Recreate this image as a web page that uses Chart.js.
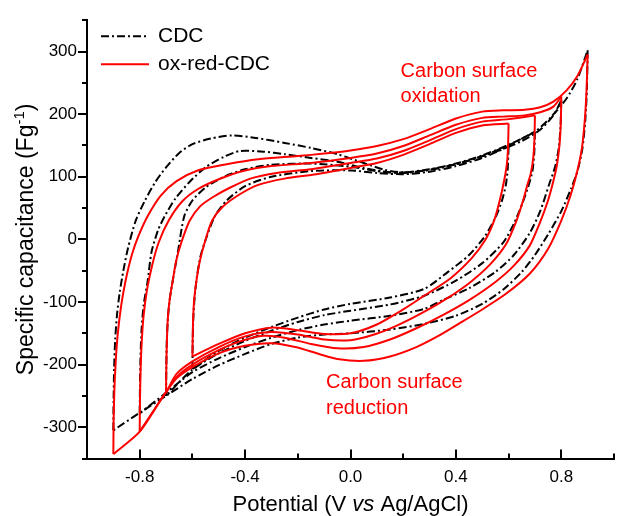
<!DOCTYPE html>
<html>
<head>
<meta charset="utf-8">
<title>CV curves</title>
<script src="https://cdn.jsdelivr.net/npm/chart.js@4.4.0/dist/chart.umd.min.js"></script>
<style>
html,body{margin:0;padding:0;background:#fff;}
canvas{display:block;}
</style>
</head>
<body>
<canvas id="cvChart" width="623" height="516"></canvas>
<script>
// tick labels
const xTickLabels = [-0.8, -0.4, 0, 0.4, 0.8];
const yTickLabels = [-300, -200, -100, 0, 100, 200, 300];

// ox-red-CDC, [potential V, capacitance F/g], anodic (up) and cathodic (down) sweeps
const oxred09Up = [[-0.9,-343],[-0.899,-290],[-0.896,-240],[-0.891,-195],[-0.883,-150],[-0.87,-105],[-0.853,-65],[-0.83,-25],[-0.805,5],[-0.77,37],[-0.72,70],[-0.66,93],[-0.58,110],[-0.47,120],[-0.35,128],[-0.2,133],[-0.1,137],[0,142],[0.1,149],[0.2,160],[0.3,176],[0.4,193],[0.5,204],[0.58,206],[0.66,207],[0.72,211],[0.77,220],[0.82,238],[0.86,260],[0.9,295]];
const oxred09Down = [[0.9,295],[0.896,240],[0.89,195],[0.878,145],[0.86,108],[0.835,70],[0.8,30],[0.75,-15],[0.68,-55],[0.59,-87],[0.5,-112],[0.41,-135],[0.33,-155],[0.25,-172],[0.15,-187],[0.05,-194],[-0.05,-191],[-0.12,-183],[-0.21,-172],[-0.3,-166],[-0.4,-170],[-0.5,-182],[-0.6,-204],[-0.66,-222],[-0.71,-250],[-0.8,-307],[-0.9,-343]];
const oxred08Up = [[-0.8,-307],[-0.799,-260],[-0.797,-215],[-0.793,-170],[-0.786,-125],[-0.772,-80],[-0.752,-40],[-0.728,-5],[-0.69,30],[-0.64,60],[-0.58,80],[-0.5,96],[-0.4,110],[-0.3,117],[-0.15,122],[0,130],[0.1,137],[0.2,149],[0.3,166],[0.4,183],[0.5,194],[0.58,196],[0.66,198],[0.72,203],[0.77,212],[0.8,228]];
const oxred08Down = [[0.8,228],[0.798,185],[0.793,150],[0.783,118],[0.768,90],[0.748,60],[0.72,28],[0.68,-10],[0.62,-42],[0.55,-68],[0.45,-97],[0.35,-121],[0.25,-142],[0.15,-160],[0.05,-172],[-0.05,-174],[-0.15,-167],[-0.25,-157],[-0.33,-154],[-0.42,-163],[-0.5,-177],[-0.6,-200],[-0.66,-220],[-0.71,-250],[-0.8,-307]];
const oxred07Up = [[-0.7,-245],[-0.699,-205],[-0.697,-165],[-0.693,-125],[-0.686,-95],[-0.675,-67],[-0.662,-35],[-0.642,-5],[-0.61,30],[-0.57,53],[-0.52,68],[-0.46,82],[-0.38,97],[-0.28,106],[-0.15,112],[0,122],[0.1,129],[0.2,141],[0.3,158],[0.4,176],[0.5,188],[0.6,192],[0.7,198]];
const oxred07Down = [[0.7,198],[0.698,160],[0.693,128],[0.684,105],[0.672,88],[0.655,62],[0.63,30],[0.59,-8],[0.53,-40],[0.45,-70],[0.36,-96],[0.27,-118],[0.18,-137],[0.09,-152],[0,-161],[-0.1,-160],[-0.2,-152],[-0.3,-148],[-0.4,-155],[-0.5,-172],[-0.6,-195],[-0.66,-215],[-0.7,-245]];
const oxred06Up = [[-0.6,-187],[-0.599,-160],[-0.597,-125],[-0.593,-95],[-0.585,-67],[-0.572,-35],[-0.552,-3],[-0.525,30],[-0.485,52],[-0.42,72],[-0.35,87],[-0.25,97],[-0.13,104],[0,114],[0.1,122],[0.2,135],[0.3,152],[0.4,170],[0.5,182],[0.6,185]];
const oxred06Down = [[0.6,185],[0.598,150],[0.594,122],[0.585,98],[0.568,65],[0.545,30],[0.51,-2],[0.46,-30],[0.38,-62],[0.28,-90],[0.2,-112],[0.1,-136],[0,-150],[-0.1,-151],[-0.2,-145],[-0.3,-141],[-0.4,-150],[-0.5,-167],[-0.6,-187]];

// CDC
const cdc09Up = [[-0.9,-305],[-0.899,-255],[-0.897,-205],[-0.893,-160],[-0.886,-120],[-0.876,-85],[-0.862,-50],[-0.845,-15],[-0.815,30],[-0.78,62],[-0.74,92],[-0.7,115],[-0.65,138],[-0.6,152],[-0.53,161],[-0.45,166],[-0.36,162],[-0.25,154],[-0.15,146],[-0.05,136],[0.05,122],[0.13,111],[0.2,107],[0.3,112],[0.4,121],[0.5,134],[0.6,151],[0.7,172],[0.76,195],[0.82,225],[0.86,255],[0.9,302]];
const cdc09Down = [[0.9,302],[0.897,240],[0.891,190],[0.88,145],[0.862,110],[0.838,82],[0.8,45],[0.75,8],[0.7,-25],[0.65,-52],[0.58,-80],[0.5,-103],[0.4,-122],[0.28,-135],[0.15,-144],[0,-150],[-0.1,-152],[-0.2,-157],[-0.3,-167],[-0.4,-183],[-0.5,-201],[-0.6,-223],[-0.7,-250],[-0.8,-277],[-0.9,-305]];
const cdc08Up = [[-0.8,-278],[-0.799,-235],[-0.797,-190],[-0.793,-145],[-0.785,-105],[-0.77,-67],[-0.755,-20],[-0.73,15],[-0.705,37],[-0.665,65],[-0.61,92],[-0.55,115],[-0.48,132],[-0.42,141],[-0.33,140],[-0.25,136],[-0.15,130],[-0.05,124],[0.05,114],[0.15,107],[0.25,108],[0.35,115],[0.45,126],[0.55,140],[0.65,157],[0.72,175],[0.77,198],[0.8,222]];
const cdc08Down = [[0.8,222],[0.797,180],[0.79,145],[0.776,115],[0.754,88],[0.72,45],[0.68,10],[0.62,-25],[0.55,-52],[0.45,-78],[0.35,-97],[0.28,-111],[0.15,-122],[0,-130],[-0.1,-136],[-0.2,-145],[-0.3,-157],[-0.4,-172],[-0.5,-190],[-0.6,-212],[-0.7,-245],[-0.8,-278]];
const cdc07Up = [[-0.7,-250],[-0.699,-205],[-0.697,-160],[-0.692,-120],[-0.684,-90],[-0.672,-60],[-0.655,-20],[-0.631,37],[-0.6,62],[-0.55,83],[-0.48,100],[-0.4,112],[-0.3,119],[-0.15,121],[0,116],[0.1,109],[0.2,106],[0.3,111],[0.4,120],[0.5,133],[0.6,150],[0.7,172]];
const cdc07Down = [[0.7,172],[0.697,135],[0.69,108],[0.675,85],[0.65,55],[0.62,25],[0.58,-5],[0.5,-38],[0.4,-66],[0.28,-90],[0.15,-104],[0,-114],[-0.1,-121],[-0.2,-132],[-0.3,-146],[-0.4,-162],[-0.5,-182],[-0.6,-208],[-0.7,-250]];
const cdc06Up = [[-0.6,-207],[-0.599,-170],[-0.597,-130],[-0.592,-95],[-0.583,-60],[-0.568,-25],[-0.545,5],[-0.515,37],[-0.47,62],[-0.4,85],[-0.3,100],[-0.15,109],[0,110],[0.1,106],[0.2,104],[0.3,108],[0.4,117],[0.5,130],[0.6,148]];
const cdc06Down = [[0.6,148],[0.597,115],[0.59,88],[0.575,62],[0.55,35],[0.51,5],[0.45,-25],[0.37,-52],[0.28,-79],[0.15,-93],[0,-103],[-0.1,-112],[-0.2,-125],[-0.3,-140],[-0.4,-157],[-0.5,-178],[-0.6,-207]];

const FONT = '"Liberation Sans", Arial, sans-serif';
const RED = '#ff0000';
const DASHDOT = [8, 3, 2, 3];

const toXY = arr => arr.map(p => ({x: p[0], y: p[1]}));

const redSweeps = [oxred09Up, oxred09Down, oxred08Up, oxred08Down, oxred07Up, oxred07Down, oxred06Up, oxred06Down];
const blackSweeps = [cdc09Up, cdc09Down, cdc08Up, cdc08Down, cdc07Up, cdc07Down, cdc06Up, cdc06Down];

const datasets = [];
redSweeps.forEach(s => datasets.push({label: 'ox-red-CDC', data: toXY(s), borderColor: RED, borderWidth: 2}));
blackSweeps.forEach(s => datasets.push({label: 'CDC', data: toXY(s), borderColor: '#000', borderWidth: 2, borderDash: DASHDOT}));

// ticks, legend, notes and axis titles
const decor = {
  id: 'decor',
  afterDraw(chart) {
    const {ctx, chartArea: a, scales: {x, y}} = chart;
    ctx.save();
    ctx.strokeStyle = '#000';
    ctx.lineWidth = 2;

    for (let v = -350; v <= 350; v += 50) {
      const py = Math.round(y.getPixelForValue(v));
      const len = v % 100 === 0 ? 9 : 5;
      ctx.beginPath(); ctx.moveTo(a.left - len, py); ctx.lineTo(a.left, py); ctx.stroke();
    }
    for (let i = -5; i <= 5; i++) {
      const px = Math.round(x.getPixelForValue(i * 0.2));
      const len = (i % 2 === 0 && Math.abs(i) < 5) ? 9 : 5;
      ctx.beginPath(); ctx.moveTo(px, a.bottom); ctx.lineTo(px, a.bottom - len); ctx.stroke();
    }

    // legend
    const lx = a.left + 14, ly1 = a.top + 16, ly2 = a.top + 44;
    ctx.setLineDash(DASHDOT);
    ctx.beginPath(); ctx.moveTo(lx, ly1); ctx.lineTo(lx + 48, ly1); ctx.stroke();
    ctx.setLineDash([]);
    ctx.strokeStyle = RED;
    ctx.beginPath(); ctx.moveTo(lx, ly2); ctx.lineTo(lx + 48, ly2); ctx.stroke();
    ctx.fillStyle = '#000';
    ctx.font = '21px ' + FONT;
    ctx.textBaseline = 'middle';
    ctx.textAlign = 'left';
    ctx.fillText('CDC', lx + 57, ly1);
    ctx.fillText('ox-red-CDC', lx + 57, ly2);

    // notes
    ctx.fillStyle = RED;
    ctx.font = '20px ' + FONT;
    ctx.textBaseline = 'alphabetic';
    let nx = x.getPixelForValue(0.19), ny = y.getPixelForValue(259);
    ctx.fillText('Carbon surface', nx, ny);
    ctx.fillText('oxidation', nx, ny + 25);
    nx = x.getPixelForValue(-0.093); ny = y.getPixelForValue(-238);
    ctx.fillText('Carbon surface', nx, ny);
    ctx.fillText('reduction', nx, ny + 26);

    // x title with italic "vs"
    ctx.fillStyle = '#000';
    const big = '22px ' + FONT, ital = 'italic 22px ' + FONT;
    const parts = [['Potential (V ', big], ['vs', ital], [' Ag/AgCl)', big]];
    let w = 0;
    parts.forEach(p => { ctx.font = p[1]; w += ctx.measureText(p[0]).width; });
    let tx = (a.left + a.right) / 2 - w / 2;
    parts.forEach(p => { ctx.font = p[1]; ctx.fillText(p[0], tx, 511); tx += ctx.measureText(p[0]).width; });

    // y title with superscript
    ctx.save();
    ctx.translate(33, (a.top + a.bottom) / 2);
    ctx.rotate(-Math.PI / 2);
    const ybig = '23px ' + FONT, small = '15px ' + FONT;
    const yparts = [['Specific capacitance (Fg', ybig, 0], ['-1', small, -9], [')', ybig, 0]];
    w = 0;
    yparts.forEach(p => { ctx.font = p[1]; w += ctx.measureText(p[0]).width; });
    tx = -w / 2;
    yparts.forEach(p => { ctx.font = p[1]; ctx.fillText(p[0], tx, p[2]); tx += ctx.measureText(p[0]).width; });
    ctx.restore();

    ctx.restore();
  }
};

new Chart(document.getElementById('cvChart'), {
  type: 'line',
  data: {datasets: datasets},
  options: {
    responsive: false,
    animation: false,
    layout: {padding: {top: 17, right: 0, bottom: 0, left: 0}},
    plugins: {legend: {display: false}, tooltip: {enabled: false}},
    elements: {point: {radius: 0}, line: {tension: 0.25, fill: false}},
    scales: {
      x: {
        type: 'linear', min: -1, max: 1,
        afterFit: s => { s.height = 57.5; },
        grid: {display: false, drawTicks: false},
        border: {display: true, color: '#000', width: 2},
        ticks: {
          stepSize: 0.2, autoSkip: false, maxRotation: 0, padding: 9, color: '#000',
          font: {family: FONT, size: 17},
          callback: v => xTickLabels.some(t => Math.abs(t - v) < 1e-6) ? v.toFixed(1) : ''
        }
      },
      y: {
        type: 'linear', min: -350, max: 350,
        afterFit: s => { s.width = 87; },
        grid: {display: false, drawTicks: false},
        border: {display: true, color: '#000', width: 2},
        ticks: {
          stepSize: 50, padding: 10, color: '#000',
          font: {family: FONT, size: 17},
          callback: v => yTickLabels.includes(v) ? String(v) : ''
        }
      }
    }
  },
  plugins: [decor]
});
</script>
</body>
</html>
